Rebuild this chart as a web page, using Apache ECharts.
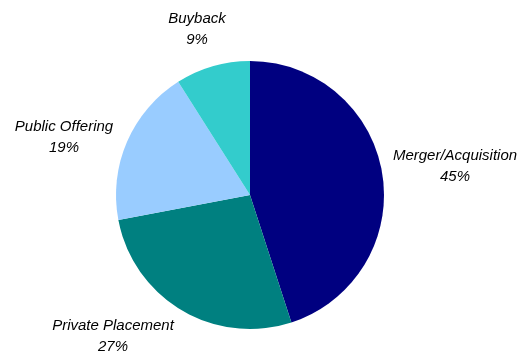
<!DOCTYPE html>
<html>
<head>
<meta charset="utf-8">
<script src="https://cdn.jsdelivr.net/npm/echarts@6/dist/echarts.min.js"></script>
<style>html,body{margin:0;padding:0;background:#fff}#c{width:524px;height:352px}</style>
</head>
<body>
<div id="c"></div>
<script>
var categories = ['Merger/Acquisition', 'Private Placement', 'Public Offering', 'Buyback'];
var values = [45, 27, 19, 9];
var colors = ['#000080', '#008080', '#99CCFF', '#33CCCC'];
var labelPos = [[455, 166], [113, 336], [64, 137], [197, 29]];

var chart = echarts.init(document.getElementById('c'));
chart.setOption({
  animation: false,
  series: [{
    type: 'pie',
    center: [250, 195],
    radius: 134,
    startAngle: 90,
    clockwise: true,
    data: categories.map(function (n, i) {
      return { name: n, value: values[i], itemStyle: { color: colors[i] } };
    }),
    itemStyle: { borderWidth: 0 },
    label: {
      show: true,
      position: 'outside',
      formatter: '{b}\n{c}%',
      fontFamily: 'Liberation Sans, Arial, sans-serif',
      fontStyle: 'italic',
      fontSize: 15,
      lineHeight: 21,
      color: '#000',
      align: 'center',
      overflow: 'none',
      width: 300
    },
    labelLine: { show: false },
    labelLayout: function (p) {
      var pos = labelPos[p.dataIndex];
      return { x: pos[0], y: pos[1], align: 'center', verticalAlign: 'middle' };
    }
  }]
});
</script>
</body>
</html>
